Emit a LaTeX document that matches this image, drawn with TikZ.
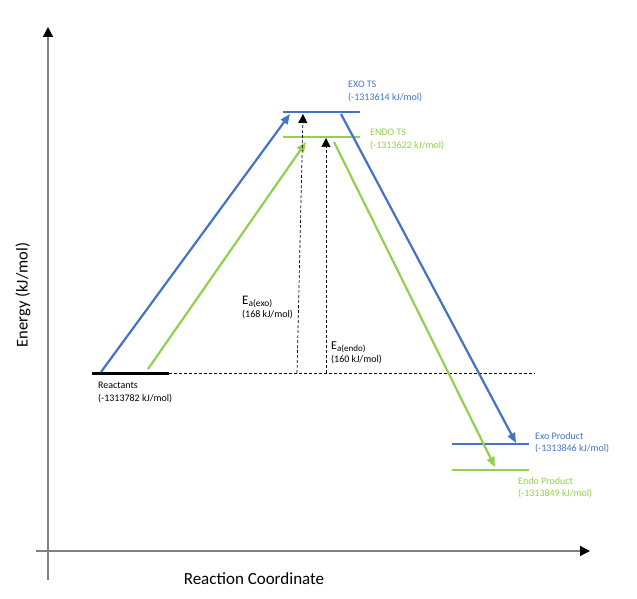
\documentclass[tikz,border=0pt]{standalone}
\usepackage{fontspec}
\setmainfont{Carlito}
\usetikzlibrary{arrows.meta,positioning}
\definecolor{exoblue}{HTML}{4472C4}
\definecolor{endogreen}{HTML}{92D050}

\begin{document}
\begin{tikzpicture}[x=1pt,y=-1pt,
		lbl/.style={font=\fontsize{10}{12.5}\selectfont, align=left, anchor=north west, inner sep=0pt},
		level/.style={line width=2.4pt},
		pathway/.style={line width=2.2pt, -{Triangle[length=10pt,width=8pt]}},
		barrier/.style={densely dashed, line width=0.7pt, -{Triangle[length=9pt,width=9pt]}},
		axis/.style={line width=1.3pt, draw=black!50, -{Triangle[length=10pt,width=10pt,color=black]}}]
	\useasboundingbox (0,0) rectangle (637,599);

	\coordinate (origin) at (48,551);
	\coordinate (yend)   at (48,27);
	\coordinate (ystart) at (48,580);
	\coordinate (xstart) at (36,551);
	\coordinate (xend)   at (590,551);

	\coordinate (reacL)  at (92,373);
	\coordinate (reacR)  at (169,373);
	\coordinate (baseR)  at (535,373);
	\coordinate (exoTSL) at (283,112);
	\coordinate (exoTSR) at (360,112);
	\coordinate (endoTSL) at (283,137);
	\coordinate (endoTSR) at (360,137);
	\coordinate (exoPL)  at (452,444);
	\coordinate (exoPR)  at (529,444);
	\coordinate (endoPL) at (452,470);
	\coordinate (endoPR) at (529,470);

	\coordinate (exoUp0)   at (101,372);
	\coordinate (exoUp1)   at (290,114);
	\coordinate (endoUp0)  at (148,369);
	\coordinate (endoUp1)  at (306,142);
	\coordinate (exoDown0) at (341,114);
	\coordinate (exoDown1) at (516,443);
	\coordinate (endoDown0) at (334,142);
	\coordinate (endoDown1) at (495,467);
	\coordinate (eaExo0)  at (297,373);
	\coordinate (eaExo1)  at (303,114);
	\coordinate (eaEndo0) at (326,373);
	\coordinate (eaEndo1) at (326,138);

	\node[lbl]                   (reac)   at (98,382)  {Reactants\\(-1313782 kJ/mol)};
	\node[lbl, text=exoblue]     (exoTS)  at (348,81)  {EXO TS\\(-1313614 kJ/mol)};
	\node[lbl, text=endogreen]   (endoTS) at (370,129) {ENDO TS\\(-1313622 kJ/mol)};
	\node[lbl, text=exoblue]     (exoP)   at (535,432) {Exo Product\\(-1313846 kJ/mol)};
	\node[lbl, text=endogreen]   (endoP)  at (518,477) {Endo Product\\(-1313849 kJ/mol)};
	\node[lbl] (eaExo)  at (242,296) {{\fontsize{13}{14}\selectfont E}\raisebox{-2pt}{\fontsize{9.5}{10}\selectfont a(exo)}\\(168 kJ/mol)};
	\node[lbl] (eaEndo) at (331,342) {{\fontsize{12}{13}\selectfont E}\raisebox{-2pt}{\fontsize{9}{10}\selectfont a(endo)}\\(160 kJ/mol)};
	\node[rotate=90, font=\fontsize{16.5}{18}\selectfont] (ylabel) at (23,295) {Energy (kJ/mol)};
	\node[font=\fontsize{17}{19}\selectfont] (xlabel) at (254,579) {Reaction Coordinate};

	\draw[axis] (ystart) -- (yend);
	\draw[axis] (xstart) -- (xend);

	\draw[level, line width=3pt] (reacL) -- (reacR);
	\draw[densely dashed, line width=0.7pt] (reacR) -- (baseR);
	\draw[level, exoblue]   (exoTSL) -- (exoTSR);
	\draw[level, endogreen] (endoTSL) -- (endoTSR);
	\draw[level, exoblue]   (exoPL) -- (exoPR);
	\draw[level, endogreen] (endoPL) -- (endoPR);

	\draw[pathway, exoblue]   (exoUp0) -- (exoUp1);
	\draw[pathway, endogreen] (endoUp0) -- (endoUp1);
	\draw[pathway, exoblue]   (exoDown0) -- (exoDown1);
	\draw[pathway, endogreen] (endoDown0) -- (endoDown1);

	\draw[barrier] (eaExo0) -- (eaExo1);
	\draw[barrier] (eaEndo0) -- (eaEndo1);
\end{tikzpicture}
\end{document}
